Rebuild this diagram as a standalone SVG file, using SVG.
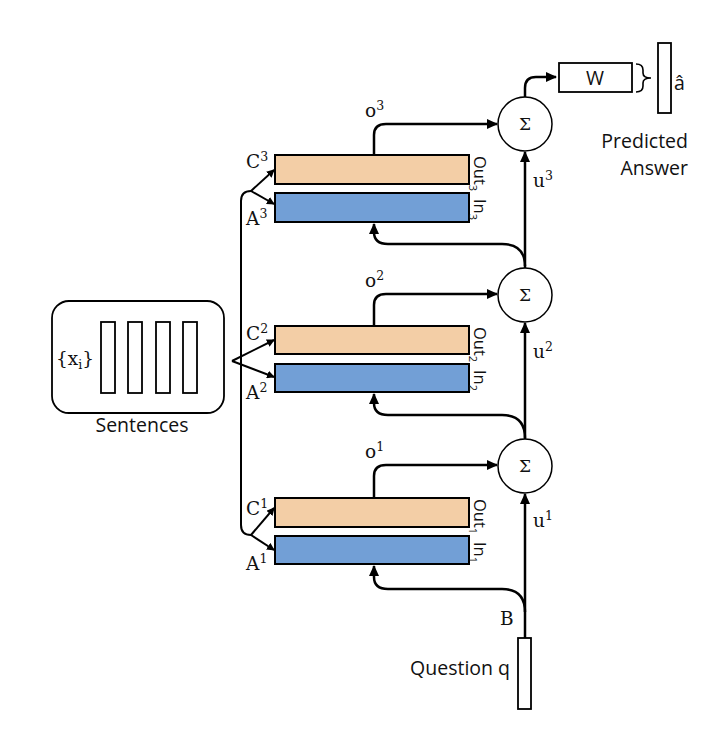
<svg xmlns="http://www.w3.org/2000/svg" width="714" height="754" viewBox="0 0 714 754">
<style>
.bg{fill:#ffffff}
.box{stroke:#000;stroke-width:2;}
.out{fill:#f3cea6}
.in{fill:#729fd6}
.plain{fill:#fff;stroke:#000;stroke-width:1.8}
.sum{fill:#fff;stroke:#000;stroke-width:1.5}
.conn{fill:none;stroke:#000;stroke-width:2.5}
.fork{fill:none;stroke:#000;stroke-width:2}
.sans{font-family:"Open Sans","Liberation Sans",sans-serif;fill:#111}
.serif{font-family:"DejaVu Serif","Liberation Serif",serif;fill:#111}
.lbl{font-size:18.5px}
.sig{font-size:17px}
.sup{font-size:12.5px}
.big{font-size:19.5px}
.rot{font-size:16.5px}
.rsub{font-size:11px}
</style>
<defs>
<marker id="ah" markerUnits="userSpaceOnUse" markerWidth="11" markerHeight="10" refX="10" refY="5" orient="auto">
<path d="M0,0 L11,5 L0,10 z" fill="#000"/>
</marker>
<marker id="ahs" markerUnits="userSpaceOnUse" markerWidth="8" markerHeight="8" refX="7" refY="4" orient="auto">
<path d="M0,0 L8,4 L0,8 z" fill="#000"/>
</marker>
</defs>
<rect class="bg" x="0" y="0" width="714" height="754"/>

<g id="sentences">
<rect x="52" y="301" width="172" height="112" rx="17" fill="#fff" stroke="#000" stroke-width="1.8"/>
<rect class="plain" x="101" y="322" width="14" height="71"/>
<rect class="plain" x="128" y="322" width="14" height="71"/>
<rect class="plain" x="156" y="322" width="14" height="71"/>
<rect class="plain" x="183" y="322" width="14" height="71"/>
<text class="serif lbl" x="56" y="365">{x<tspan class="sup" dy="4">i</tspan><tspan dy="-4">}</tspan></text>
<text class="sans big" x="142" y="432" text-anchor="middle">Sentences</text>
</g>

<g id="layer3">
<rect class="box out" x="275" y="155" width="194" height="29"/>
<rect class="box in" x="275" y="193" width="194" height="29"/>
<text class="serif lbl" x="246" y="168">C<tspan class="sup" dy="-7">3</tspan></text>
<text class="serif lbl" x="246" y="225">A<tspan class="sup" dy="-7">3</tspan></text>
<text class="sans rot" transform="translate(474,156) rotate(90)">Out<tspan class="rsub" dy="5">3</tspan></text>
<text class="sans rot" transform="translate(474,199) rotate(90)">In<tspan class="rsub" dy="5">3</tspan></text>
</g>

<g id="layer2">
<rect class="box out" x="275" y="326" width="194" height="28"/>
<rect class="box in" x="275" y="364" width="194" height="28"/>
<text class="serif lbl" x="246" y="340">C<tspan class="sup" dy="-7">2</tspan></text>
<text class="serif lbl" x="246" y="399">A<tspan class="sup" dy="-7">2</tspan></text>
<text class="sans rot" transform="translate(474,327) rotate(90)">Out<tspan class="rsub" dy="5">2</tspan></text>
<text class="sans rot" transform="translate(474,370) rotate(90)">In<tspan class="rsub" dy="5">2</tspan></text>
</g>

<g id="layer1">
<rect class="box out" x="275" y="498" width="194" height="29"/>
<rect class="box in" x="275" y="536" width="194" height="28"/>
<text class="serif lbl" x="246" y="515">C<tspan class="sup" dy="-7">1</tspan></text>
<text class="serif lbl" x="246" y="570">A<tspan class="sup" dy="-7">1</tspan></text>
<text class="sans rot" transform="translate(474,499) rotate(90)">Out<tspan class="rsub" dy="5">1</tspan></text>
<text class="sans rot" transform="translate(474,542) rotate(90)">In<tspan class="rsub" dy="5">1</tspan></text>
</g>

<g id="sum3">
<circle class="sum" cx="525" cy="124" r="27"/>
<text class="serif sig" x="525" y="130" text-anchor="middle">Σ</text>
</g>
<g id="sum2">
<circle class="sum" cx="525" cy="295" r="27"/>
<text class="serif sig" x="525" y="301" text-anchor="middle">Σ</text>
</g>
<g id="sum1">
<circle class="sum" cx="525" cy="466" r="27"/>
<text class="serif sig" x="525" y="472" text-anchor="middle">Σ</text>
</g>

<g id="W">
<rect class="plain" x="559" y="63" width="73" height="29"/>
<text class="sans big" x="595" y="85" text-anchor="middle">W</text>
<path d="M636,64 Q643,64 643,70 V73 Q643,78 651,78 Q643,78 643,83 V86 Q643,92 636,92" fill="none" stroke="#000" stroke-width="1.6"/>
</g>

<g id="answer">
<rect class="plain" x="658" y="43" width="13" height="70"/>
<text class="sans big" x="674" y="90">â</text>
<text class="sans big" x="688" y="148" text-anchor="end">Predicted</text>
<text class="sans big" x="688" y="175" text-anchor="end">Answer</text>
</g>

<g id="question">
<rect class="plain" x="518" y="638" width="13" height="71"/>
<text class="sans big" x="510" y="675" text-anchor="end">Question q</text>
<text class="serif lbl" x="500" y="625">B</text>
</g>

<g id="connectors">
<path class="conn" d="M525,638 V494" marker-end="url(#ah)"/>
<path class="conn" d="M525,439 V323" marker-end="url(#ah)"/>
<path class="conn" d="M525,268 V152" marker-end="url(#ah)"/>
<path class="conn" d="M525,97 V88 Q525,77 536,77 H556" marker-end="url(#ah)"/>
<path class="conn" d="M374,155 V135 Q374,124 386,124 H497" marker-end="url(#ah)"/>
<path class="conn" d="M374,326 V305 Q374,294 386,294 H497" marker-end="url(#ah)"/>
<path class="conn" d="M374,498 V476 Q374,465 386,465 H497" marker-end="url(#ah)"/>
<path class="conn" d="M525,612 Q525,589 502,589 H388 Q374,589 374,577 V566" marker-end="url(#ah)"/>
<path class="conn" d="M525,438 Q525,415 502,415 H388 Q374,415 374,403 V394" marker-end="url(#ah)"/>
<path class="conn" d="M525,266 Q525,244 502,244 H388 Q374,244 374,232 V224" marker-end="url(#ah)"/>
<path class="fork" d="M251,191 Q241,191 241,201 V525 Q241,535 251,535"/>
<path class="fork" d="M251,191 L274,170" marker-end="url(#ahs)"/>
<path class="fork" d="M251,191 L274,204" marker-end="url(#ahs)"/>
<path class="fork" d="M232,361 L274,340" marker-end="url(#ahs)"/>
<path class="fork" d="M232,361 L274,377" marker-end="url(#ahs)"/>
<path class="fork" d="M251,535 L274,508" marker-end="url(#ahs)"/>
<path class="fork" d="M251,535 L274,550" marker-end="url(#ahs)"/>
</g>

<g id="labels">
<text class="serif lbl" x="365" y="117">o<tspan class="sup" dy="-7">3</tspan></text>
<text class="serif lbl" x="365" y="287">o<tspan class="sup" dy="-7">2</tspan></text>
<text class="serif lbl" x="365" y="458">o<tspan class="sup" dy="-7">1</tspan></text>
<text class="serif lbl" x="533" y="187">u<tspan class="sup" dy="-7">3</tspan></text>
<text class="serif lbl" x="533" y="358">u<tspan class="sup" dy="-7">2</tspan></text>
<text class="serif lbl" x="533" y="527">u<tspan class="sup" dy="-7">1</tspan></text>
</g>
</svg>
